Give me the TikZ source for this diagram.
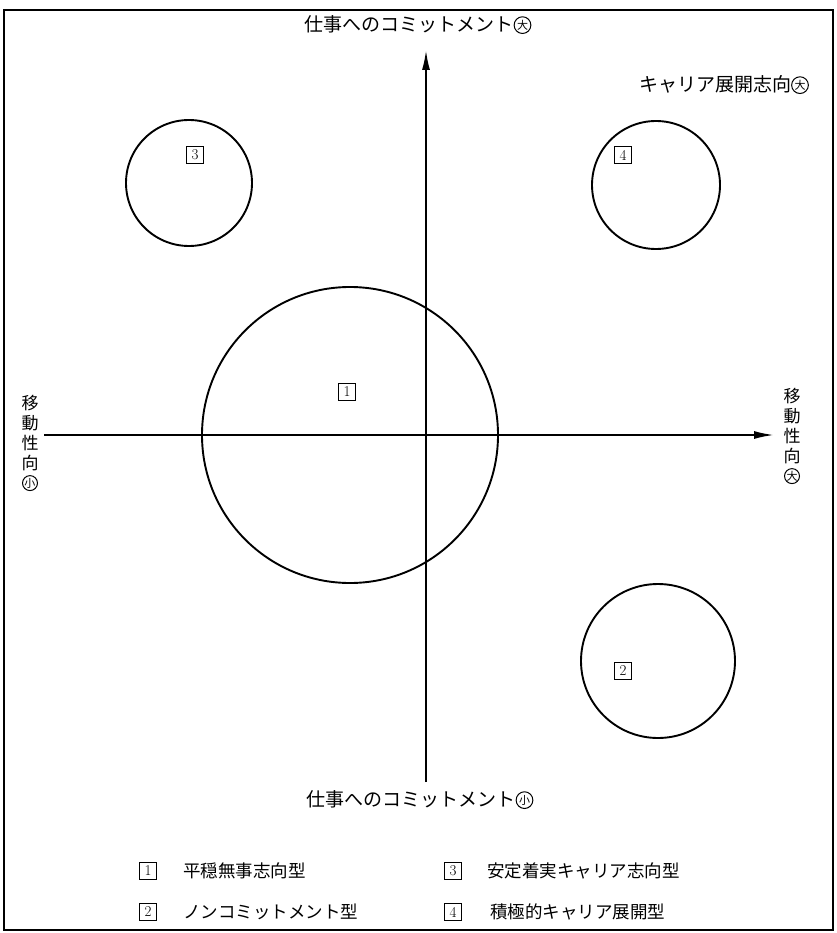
\documentclass[tikz,border=0pt]{standalone}
\usepackage{fontspec}
\newfontfamily\jp{Noto Sans CJK JP}
\usetikzlibrary{arrows.meta}
\newcommand\maru[1]{\tikz[baseline=-0.36em]{\draw[line width=1pt] (0pt,0pt) circle[radius=0.44em]; \node[inner sep=0pt,font=\jp\fontsize{11}{11}\selectfont] at (0pt,0pt) {#1};}}
\tikzset{
  axis/.style={line width=1.9pt,-{Latex[length=20pt,width=8pt]}},
  ring/.style={line width=1.9pt},
  lbl/.style={font=\jp\fontsize{19}{19}\selectfont,inner sep=0pt},
  vlbl/.style={font=\jp\fontsize{17}{20}\selectfont,inner sep=0pt,align=center},
  numbox/.style={draw,line width=1pt,inner sep=0pt,minimum size=17pt,font=\fontsize{15}{15}\selectfont},
  legtext/.style={font=\jp\fontsize{17.5}{17.5}\selectfont,inner sep=0pt,anchor=west}
}
\begin{document}
\begin{tikzpicture}[x=1pt,y=-1pt]
\useasboundingbox (0,0) rectangle (836,933);
\fill[white] (0,0) rectangle (836,933);
\draw[line width=1.8pt] (4,10) rectangle (833,930);
% axes
\coordinate (vb) at (426,782);
\coordinate (vt) at (426,50);
\coordinate (hl) at (44,435);
\coordinate (hr) at (774,435);
\draw[axis] (vb) -- (vt);
\draw[axis] (hl) -- (hr);
% circles
\draw[ring] (350,435) circle[radius=148pt];
\draw[ring] (189,183) circle[radius=63pt];
\draw[ring] (656,185) circle[radius=64pt];
\draw[ring] (658,661) circle[radius=77pt];
\node[numbox] (n1) at (347,392) {1};
\node[numbox] (n3) at (195,155) {3};
\node[numbox] (n4) at (623,155) {4};
\node[numbox] (n2) at (623,671) {2};
% axis labels
\node[lbl] (top) at (418,25) {仕事へのコミットメント\maru{大}};
\node[lbl] (bot) at (420,800) {仕事へのコミットメント\maru{小}};
\node[lbl] (car) at (724,85) {キャリア展開志向\maru{大}};
\node[vlbl] (lft) at (30,443) {移\\動\\性\\向\\\maru{小}};
\node[vlbl] (rgt) at (792,436) {移\\動\\性\\向\\\maru{大}};
% legend
\node[numbox] (l1) at (148,871) {1};
\node[legtext] (t1) at (183,871) {平穏無事志向型};
\node[numbox] (l2) at (148,912) {2};
\node[legtext] (t2) at (183,912) {ノンコミットメント型};
\node[numbox] (l3) at (453,871) {3};
\node[legtext] (t3) at (487,871) {安定着実キャリア志向型};
\node[numbox] (l4) at (453,912) {4};
\node[legtext] (t4) at (490,912) {積極的キャリア展開型};
\end{tikzpicture}
\end{document}
